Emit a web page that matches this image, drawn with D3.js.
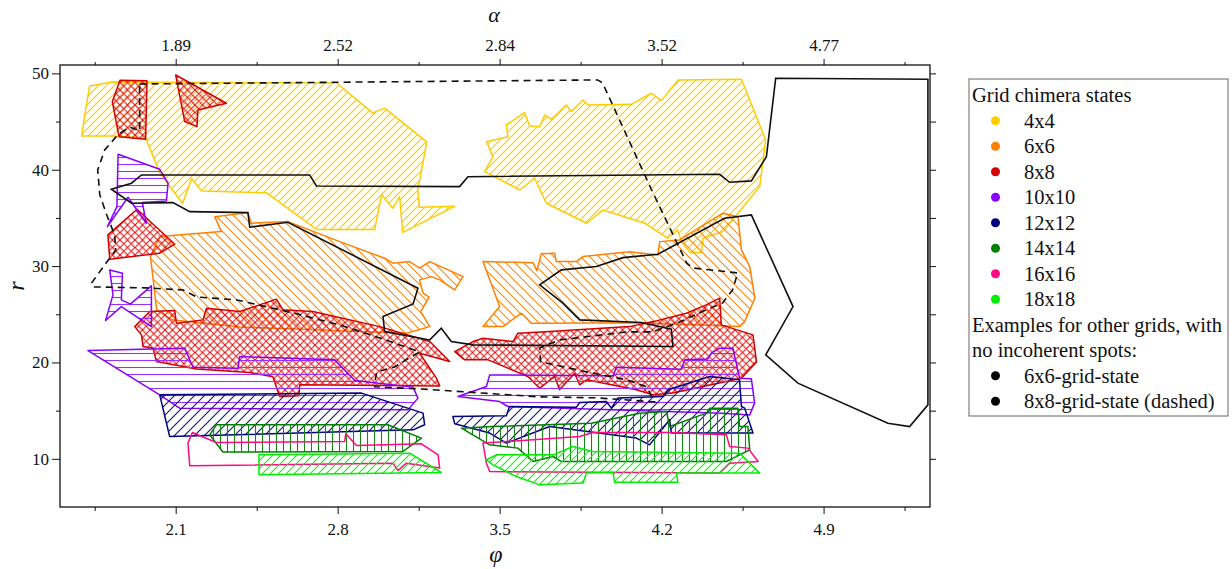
<!DOCTYPE html>
<html lang="en">
<head>
<meta charset="UTF-8">
<title>Grid chimera states</title>
<script src="https://cdn.jsdelivr.net/npm/d3@7"></script>
<style>
	body { margin: 0; background: #fff; }
	svg text { font-family: "Liberation Serif", "Times New Roman", serif; fill: #111; }
	.axis path, .axis line { stroke: #111; }
</style>
</head>
<body>
<div id="chart"></div>
<script>
// axis ticks
var phiTicks = [2.1, 2.8, 3.5, 4.2, 4.9];
var phiMinor = [1.75, 2.45, 3.15, 3.85, 4.55, 5.25];
var alphaLabels = ['1.89', '2.52', '2.84', '3.52', '4.77'];
var rTicks = [10, 20, 30, 40, 50];
var rMinor = [15, 25, 35, 45];

var gridNames = ['4x4', '6x6', '8x8', '10x10', '12x12', '14x14', '16x16', '18x18'];

// regions, each polygon is a list of [phi, r]
var poly4x4 = [
	[[1.728,48.69],[1.823,49.1],[2.796,49.0],[2.951,45.9],[3.003,46.4],[3.185,42.9],[3.163,40.0],[3.146,37.9],[3.154,36.1],[3.306,36.2],[3.081,33.5],[3.068,37.2],[3.038,36.0],[2.990,37.4],[2.960,33.8],[2.709,33.8],[2.493,37.6],[2.212,37.8],[2.169,39.1],[2.130,36.5],[2.065,38.6],[2.031,39.7],[1.970,43.3],[1.828,43.5],[1.694,43.5],[1.707,45.7]],
	[[3.443,42.91],[3.536,43.43],[3.529,44.65],[3.608,45.92],[3.630,44.54],[3.673,44.47],[3.695,45.68],[3.724,45.24],[3.788,46.72],[3.81,46.03],[3.86,47.24],[3.882,46.72],[4.069,46.79],[4.156,47.94],[4.199,47.17],[4.271,49.32],[4.545,49.39],[4.65,43.09],[4.624,38.25],[4.53,35.49],[4.465,33.58],[4.379,32.89],[4.372,31.4],[4.324,31.4],[4.287,32.51],[4.269,33.76],[4.227,32.89],[4.127,34.45],[3.947,35.83],[3.875,34.45],[3.702,36.52],[3.651,39.12],[3.587,37.9],[3.435,39.8],[3.471,41.36]]
];
var poly6x6 = [
	[[1.991,30.99],[2.031,33.06],[2.297,33.58],[2.269,35.13],[2.412,35.55],[2.427,34.45],[2.585,34.62],[2.809,32.54],[3.003,30.82],[3.039,30.3],[3.111,30.47],[3.154,29.78],[3.198,30.47],[3.342,28.91],[3.306,27.53],[3.241,28.57],[3.205,28.91],[3.154,28.57],[3.169,27.19],[3.195,26.77],[3.159,25.28],[3.198,23.72],[3.097,23.04],[2.377,23.69],[2.083,24.42],[2.018,25.46]],
	[[3.428,30.47],[3.644,30.36],[3.661,29.53],[3.680,31.27],[3.738,31.34],[3.745,30.47],[3.832,30.47],[3.86,30.99],[4.062,31.5],[4.184,31.16],[4.192,32.54],[4.278,32.72],[4.465,35.49],[4.53,35.13],[4.545,31.68],[4.581,29.95],[4.603,26.67],[4.559,24.24],[4.537,23.72],[4.365,23.9],[4.105,24.11],[3.673,24.08],[3.637,24.08],[3.594,25.11],[3.514,23.72],[3.428,23.72],[3.5,25.8]]
];
var poly8x8 = [
	[[1.859,49.3],[1.976,49.24],[1.970,43.16],[1.855,43.43],[1.826,47.06]],
	[[2.1,49.83],[2.319,46.9],[2.196,46.2],[2.192,44.47],[2.139,45.0]],
	[[1.933,35.9],[2.096,32.27],[2.031,31.34],[1.815,30.72],[1.807,33.24]],
	[[1.923,23.72],[1.988,25.28],[2.096,25.38],[2.103,24.08],[2.218,24.42],[2.233,25.63],[2.377,25.28],[2.535,26.57],[2.564,25.46],[2.693,25.28],[2.982,23.72],[3.198,22.17],[3.284,20.09],[3.154,20.96],[3.227,18.37],[3.241,17.57],[2.636,17.68],[2.633,16.54],[2.549,16.46],[2.520,18.51],[2.420,18.95],[2.189,19.31],[2.017,20.09],[2.002,21.48],[1.959,21.65],[1.952,22.86]],
	[[3.306,21.13],[3.385,22.17],[3.428,22.52],[3.558,22.17],[3.579,23.04],[3.716,23.21],[4.062,23.72],[4.163,24.24],[4.307,25.11],[4.393,25.98],[4.451,26.67],[4.458,23.9],[4.595,22.86],[4.61,20.06],[4.545,18.37],[4.249,16.82],[4.163,16.64],[4.091,17.16],[3.875,18.2],[3.846,17.68],[3.824,18.89],[3.759,17.16],[3.738,18.54],[3.673,17.33],[3.622,18.54],[3.45,20.27],[3.349,20.27]]
];
var poly10x10 = [
	[[1.851,41.61],[2.031,40.05],[2.067,38.6],[2.06,36.76],[1.956,36.59],[1.973,34.45],[1.894,37.15],[1.805,34.1],[1.846,36.17]],
	[[1.815,29.6],[1.870,29.26],[1.865,26.49],[1.904,26.05],[1.995,27.95],[1.995,23.72],[1.865,25.8],[1.797,24.35],[1.829,27.01]],
	[[1.721,21.23],[2.139,21.48],[2.175,19.51],[2.369,19.41],[2.377,20.61],[2.787,20.27],[2.874,18.12],[3.126,17.44],[3.147,16.3],[3.104,15.08],[2.117,15.26],[2.031,16.64]],
	[[3.32,16.46],[3.443,17.5],[3.457,18.71],[3.99,18.61],[4.005,19.51],[4.285,19.3],[4.3,20.27],[4.4,20.37],[4.415,20.96],[4.451,21.48],[4.508,21.48],[4.537,18.37],[4.588,18.3],[4.602,15.78],[4.581,14.56],[4.465,14.74],[3.536,15.43],[3.5,15.94]]
];
var poly12x12 = [
	[[2.031,16.64],[2.903,16.82],[3.169,14.74],[3.176,13.53],[3.126,13.01],[2.074,12.31]],
	[[3.298,14.39],[3.529,14.46],[3.543,15.43],[3.832,15.36],[3.846,15.84],[3.961,15.94],[3.983,15.26],[4.011,16.3],[4.206,16.46],[4.228,17.16],[4.408,18.54],[4.537,18.2],[4.545,15.43],[4.559,15.26],[4.595,12.67],[4.242,12.67],[4.235,14.05],[4.148,11.45],[4.091,12.15],[3.716,13.35],[3.529,11.63],[3.457,12.67],[3.306,13.63]]
];
var poly14x14 = [
	[[2.247,12.49],[2.276,13.53],[3.017,13.53],[3.162,12.15],[3.082,10.76],[2.304,10.7]],
	[[3.335,13.18],[3.464,13.35],[3.896,13.7],[4.105,14.74],[4.221,14.91],[4.235,13.35],[4.393,14.74],[4.408,15.26],[4.53,15.26],[4.537,13.35],[4.573,13.35],[4.581,10.93],[4.48,9.72],[3.767,9.72],[3.731,10.24],[3.644,9.72],[3.579,11.11],[3.457,11.45]]
];
var poly16x16 = [
	[[2.153,11.63],[2.172,12.73],[2.276,11.69],[2.83,11.79],[2.835,12.59],[2.881,11.38],[3.162,11.56],[3.234,10.41],[3.241,9.04],[3.097,9.55],[3.061,8.79],[3.039,9.55],[2.161,9.27]],
	[[3.428,11.63],[3.846,12.31],[3.903,12.73],[4.235,12.73],[4.48,12.49],[4.494,11.28],[4.573,11.11],[4.617,9.72],[4.494,9.55],[4.451,8.52],[3.457,8.68],[3.443,9.55]]
];
var poly18x18 = [
	[[2.46,10.41],[3.111,10.59],[3.248,8.58],[2.46,8.34]],
	[[3.443,9.9],[3.486,10.41],[3.731,10.41],[3.817,11.28],[3.903,10.76],[4.537,10.59],[4.624,8.52],[4.264,8.52],[4.271,7.58],[3.997,7.58],[3.99,8.58],[3.875,8.52],[3.861,7.48],[3.673,7.3],[3.572,8.16],[3.471,9.38]]
];

// examples with no incoherent spots
var state6x6 = [[1.822,37.98],[1.909,38.6],[1.952,39.46],[2.679,39.46],[2.708,38.32],[3.327,38.25],[3.363,39.28],[4.451,39.53],[4.494,38.7],[4.588,38.84],[4.653,41.36],[4.693,49.49],[5.351,49.39],[5.351,15.6],[5.272,13.35],[5.178,13.7],[4.789,17.85],[4.65,20.79],[4.768,25.8],[4.588,35.31],[4.472,34.97],[4.184,31.23],[4.033,30.88],[3.918,29.95],[3.767,29.61],[3.673,28.05],[3.772,26.18],[3.846,24.42],[4.113,24.14],[4.242,23.45],[4.249,21.65],[3.385,21.83],[3.291,22.17],[3.248,23.56],[3.198,22.34],[3.003,23.21],[2.996,24.76],[3.126,26.08],[3.147,27.71],[2.585,34.55],[2.42,34.04],[2.412,35.55],[2.161,35.65],[2.088,36.59],[1.909,36.52]];
var state8x8 = [[1.944,48.9],[3.924,49.32],[3.945,49.0],[4.157,37.9],[4.308,30.33],[4.334,29.81],[4.529,29.29],[4.507,27.53],[4.464,26.18],[4.364,25.15],[4.278,24.21],[4.161,23.17],[4.049,23.17],[3.759,22.34],[3.673,21.51],[3.677,20.06],[3.876,19.02],[4.049,18.2],[4.135,17.47],[4.17,15.91],[3.919,16.33],[3.673,16.43],[3.154,17.26],[2.96,17.47],[2.96,17.88],[2.969,19.02],[3.046,19.54],[3.154,21.1],[2.982,22.55],[2.809,23.9],[2.606,25.15],[2.364,26.49],[2.191,26.8],[2.13,27.53],[1.97,27.74],[1.741,27.84],[1.737,28.26],[1.793,30.12],[1.841,31.68],[1.836,33.24],[1.802,35.31],[1.772,37.39],[1.763,39.98],[1.793,42.05],[1.849,43.61],[1.901,44.44],[1.944,44.02]];

var colors = ['#FFCC00', '#FF8000', '#D40000', '#8A00FF', '#000080', '#008000', '#FF0A84', '#00EE00'];
var hatchColors = ['#FFC800', '#FF8A10', '#E01010', '#9A30FF', '#101080', '#108A10', 'none', '#10F010'];
var hatchType = ['fwd', 'back', 'cross', 'horiz', 'fwd', 'vert', 'none', 'fwd'];
var hatchSize = [8, 9, 7.5, 7, 10, 7, 8, 8];

var allPolys = [poly4x4, poly6x6, poly8x8, poly10x10, poly12x12, poly14x14, poly16x16, poly18x18];

var svg = d3.select('#chart').append('svg')
	.attr('width', 1232)
	.attr('height', 569);

var x = d3.scaleLinear().domain([1.6, 5.36]).range([60, 930]);
var y = d3.scaleLinear().domain([5, 50.87]).range([507, 65]);

var defs = svg.append('defs');

function addHatch(id, color, type, s) {
	var p = defs.append('pattern')
		.attr('id', id)
		.attr('patternUnits', 'userSpaceOnUse')
		.attr('width', s).attr('height', s);
	var fwd = 'M0,' + s + ' L' + s + ',0 M' + (-s / 2) + ',' + (s / 2) + ' L' + (s / 2) + ',' + (-s / 2) +
		' M' + (s / 2) + ',' + (1.5 * s) + ' L' + (1.5 * s) + ',' + (s / 2);
	var back = 'M0,0 L' + s + ',' + s + ' M' + (-s / 2) + ',' + (s / 2) + ' L' + (s / 2) + ',' + (1.5 * s) +
		' M' + (s / 2) + ',' + (-s / 2) + ' L' + (1.5 * s) + ',' + (s / 2);
	var d;
	if (type === 'fwd') d = fwd;
	else if (type === 'back') d = back;
	else if (type === 'cross') d = fwd + ' ' + back;
	else if (type === 'horiz') d = 'M0,' + (s / 2) + ' L' + s + ',' + (s / 2);
	else if (type === 'vert') d = 'M' + (s / 2) + ',0 L' + (s / 2) + ',' + s;
	p.append('path')
		.attr('d', d)
		.attr('stroke', color)
		.attr('stroke-width', 1.1)
		.attr('fill', 'none');
}

gridNames.forEach(function (n, i) {
	if (hatchType[i] !== 'none') addHatch('hatch' + i, hatchColors[i], hatchType[i], hatchSize[i]);
});

var line = d3.line()
	.x(function (d) { return x(d[0]); })
	.y(function (d) { return y(d[1]); });

var plot = svg.append('g');

allPolys.forEach(function (polys, i) {
	plot.append('g')
		.selectAll('path')
		.data(polys)
		.enter().append('path')
		.attr('d', function (d) { return line(d) + 'Z'; })
		.attr('fill', hatchType[i] === 'none' ? 'none' : 'url(#hatch' + i + ')')
		.attr('stroke', colors[i])
		.attr('stroke-width', 1.5)
		.attr('stroke-linejoin', 'round');
});

plot.append('path')
	.attr('d', line(state6x6) + 'Z')
	.attr('fill', 'none')
	.attr('stroke', '#111')
	.attr('stroke-width', 1.6);

plot.append('path')
	.attr('d', line(state8x8) + 'Z')
	.attr('fill', 'none')
	.attr('stroke', '#111')
	.attr('stroke-width', 1.6)
	.attr('stroke-dasharray', '7,5');

// axes
function styleAxis(g) {
	g.attr('class', 'axis')
		.attr('font-family', '"Liberation Serif", serif')
		.attr('font-size', 17);
	g.selectAll('text').style('font-size', '17px');
	g.select('.domain').remove();
}

svg.append('g')
	.attr('transform', 'translate(0,507)')
	.call(d3.axisBottom(x).tickValues(phiTicks).tickFormat(d3.format('.1f')).tickSize(7).tickPadding(9))
	.call(styleAxis);
svg.append('g')
	.attr('transform', 'translate(0,507)')
	.call(d3.axisBottom(x).tickValues(phiMinor).tickFormat('').tickSize(4))
	.call(styleAxis);

svg.append('g')
	.attr('transform', 'translate(0,65)')
	.call(d3.axisTop(x).tickValues(phiTicks).tickFormat(function (d, i) { return alphaLabels[i]; }).tickSize(6).tickPadding(8))
	.call(styleAxis);
svg.append('g')
	.attr('transform', 'translate(0,65)')
	.call(d3.axisTop(x).tickValues(phiMinor).tickFormat('').tickSize(3))
	.call(styleAxis);

svg.append('g')
	.attr('transform', 'translate(60,0)')
	.call(d3.axisLeft(y).tickValues(rTicks).tickSize(8).tickPadding(3))
	.call(styleAxis);
svg.append('g')
	.attr('transform', 'translate(60,0)')
	.call(d3.axisLeft(y).tickValues(rMinor).tickFormat('').tickSize(4))
	.call(styleAxis);

svg.append('g')
	.attr('transform', 'translate(930,0)')
	.call(d3.axisRight(y).tickValues(rTicks.concat(rMinor)).tickFormat('').tickSize(6))
	.call(styleAxis);

svg.append('rect')
	.attr('x', 60).attr('y', 65)
	.attr('width', 870).attr('height', 442)
	.attr('fill', 'none')
	.attr('stroke', '#111')
	.attr('stroke-width', 1.3);

// axis titles
svg.append('text')
	.attr('x', 494).attr('y', 22)
	.attr('text-anchor', 'middle')
	.style('font-style', 'italic')
	.style('font-size', '22px')
	.text('α');
svg.append('text')
	.attr('x', 496).attr('y', 562)
	.attr('text-anchor', 'middle')
	.style('font-style', 'italic')
	.style('font-size', '24px')
	.text('φ');
svg.append('text')
	.attr('transform', 'translate(24,286) rotate(-90)')
	.attr('text-anchor', 'middle')
	.style('font-style', 'italic')
	.style('font-size', '24px')
	.text('r');

// legend
var legend = svg.append('g');
legend.append('rect')
	.attr('x', 969).attr('y', 79)
	.attr('width', 259).attr('height', 337)
	.attr('fill', '#fff')
	.attr('stroke', '#666')
	.attr('stroke-width', 1);

var rowY = d3.scaleLinear().domain([0, 1]).range([120.7, 146.2]);
var legendFont = '20.5px';

legend.append('text')
	.attr('x', 972).attr('y', rowY(-1) + 7)
	.style('font-size', legendFont)
	.text('Grid chimera states');

gridNames.forEach(function (n, i) {
	legend.append('circle')
		.attr('cx', 995.5).attr('cy', rowY(i))
		.attr('r', 4.5)
		.attr('fill', colors[i]);
	legend.append('text')
		.attr('x', 1024).attr('y', rowY(i) + 7)
		.style('font-size', legendFont)
		.text(n);
});

legend.append('text')
	.attr('x', 972).attr('y', rowY(8) + 7)
	.style('font-size', legendFont)
	.text('Examples for other grids, with');
legend.append('text')
	.attr('x', 972).attr('y', rowY(9) + 7)
	.style('font-size', legendFont)
	.text('no incoherent spots:');

['6x6-grid-state', '8x8-grid-state (dashed)'].forEach(function (n, i) {
	legend.append('circle')
		.attr('cx', 995.5).attr('cy', rowY(10 + i))
		.attr('r', 4.5)
		.attr('fill', '#000');
	legend.append('text')
		.attr('x', 1024).attr('y', rowY(10 + i) + 7)
		.style('font-size', legendFont)
		.text(n);
});
</script>
</body>
</html>
